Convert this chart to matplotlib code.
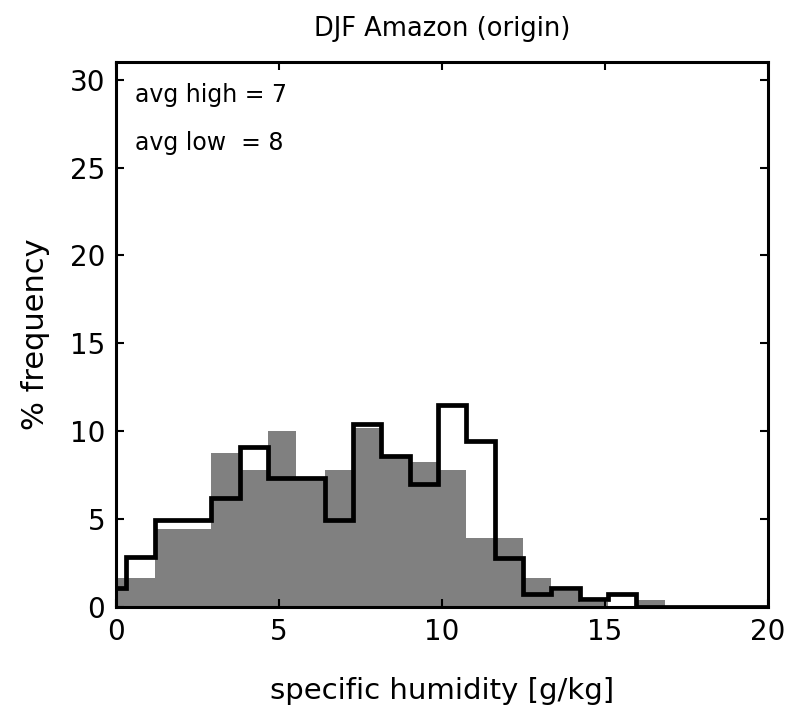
import numpy as np
import matplotlib
matplotlib.use("Agg")
import matplotlib.pyplot as plt

# histogram bins (g/kg), width ~0.87 starting below zero
bin_start = -0.56
bin_width = 0.87
n_bins = 24

# % frequency, origin of low-humidity events (gray filled)
low_pct = [1.67, 1.67, 4.43, 4.43, 8.75, 7.8, 10.04, 7.3, 7.8, 10.2,
           8.5, 8.27, 7.8, 3.95, 3.95, 1.63, 0.91, 0.3, 0.0, 0.38,
           0.0, 0.0, 0.0, 0.0]
# % frequency, origin of high-humidity events (black outline)
high_pct = [1.1, 2.85, 4.96, 4.96, 6.2, 9.09, 7.32, 7.32, 4.95, 10.4,
            8.6, 7.0, 11.5, 9.47, 2.81, 0.72, 1.1, 0.45, 0.76, 0.0,
            0.0, 0.0, 0.0, 0.0]

avg_high = 7
avg_low = 8

edges = bin_start + bin_width * np.arange(n_bins + 1)

fig = plt.figure(figsize=(7.85, 7.05), dpi=100)
ax = fig.add_axes([0.148, 0.139, 0.830, 0.773])

ax.bar(edges[:-1], low_pct, width=bin_width, align='edge',
       color='#808080', edgecolor='none', zorder=1)
ax.stairs(high_pct, edges, baseline=None, color='black', linewidth=3.4,
          zorder=2)

ax.set_xlim(0, 20)
ax.set_ylim(0, 31)
ax.set_xticks([0, 5, 10, 15, 20])
ax.set_yticks([0, 5, 10, 15, 20, 25, 30])
ax.tick_params(direction='in', length=6, width=1.5, top=True, right=True,
               labelsize=20, pad=8)
for s in ax.spines.values():
    s.set_linewidth(2.2)
    s.set_zorder(5)

ax.text(0.029, 0.94, 'avg high = %d' % avg_high, transform=ax.transAxes,
        fontsize=17, va='center', ha='left')
ax.text(0.029, 0.852, 'avg low  = %d' % avg_low, transform=ax.transAxes,
        fontsize=17, va='center', ha='left')

ax.set_title('DJF Amazon (origin)', fontsize=18.5, pad=19)
ax.set_xlabel('specific humidity [g/kg]', fontsize=21, labelpad=22)
ax.set_ylabel('% frequency', fontsize=22, labelpad=14)

plt.savefig('out.png', dpi=100)
